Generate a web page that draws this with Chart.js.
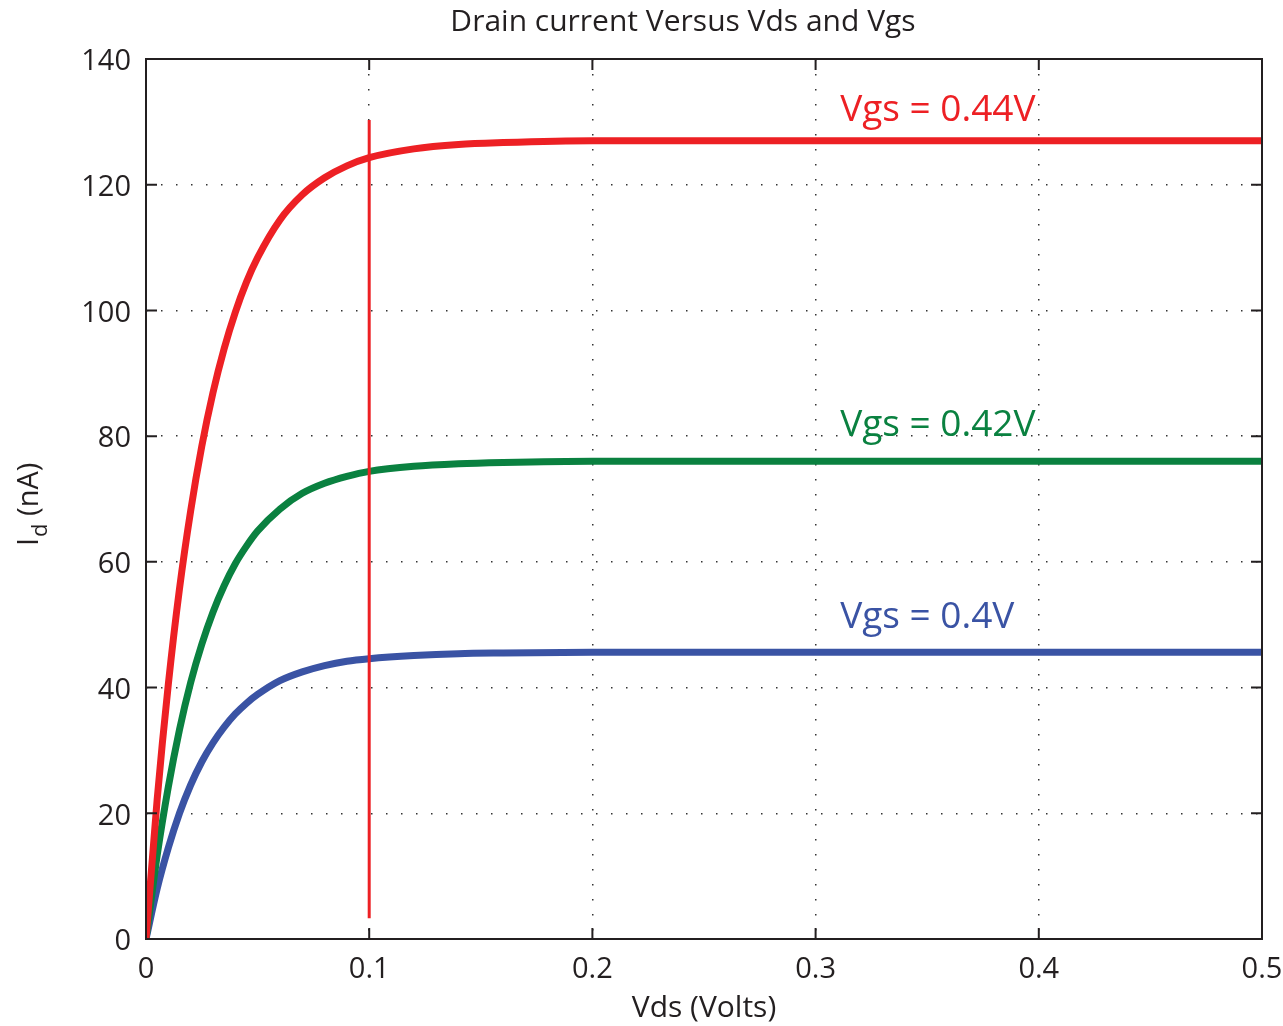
<!DOCTYPE html>
<html>
<head>
<meta charset="utf-8">
<script src="https://cdn.jsdelivr.net/npm/chart.js@4.4.1/dist/chart.umd.min.js"></script>
<style>
  html, body { margin: 0; padding: 0; background: #fff; }
  #wrap { width: 1283px; height: 1026px; }
</style>
</head>
<body>
<div id="wrap"><canvas id="graficoCorriente"></canvas></div>
<script>
// Vds samples (Volts) and drain current (nA)
var vds = [0, 0.005, 0.01, 0.015, 0.02, 0.025, 0.03, 0.035, 0.04, 0.045, 0.05,
  0.06, 0.07, 0.08, 0.09, 0.1, 0.12, 0.14, 0.16, 0.2, 0.3, 0.4, 0.5];
var idVgs044 = [0, 22.2, 40.5, 55.7, 68.1, 78.4, 86.9, 93.9, 99.7, 104.5, 108.4,
  114.4, 118.4, 121.1, 123.0, 124.3, 125.7, 126.4, 126.7, 127, 127, 127, 127];
var idVgs042 = [0, 13.3, 24.2, 33.3, 40.8, 46.9, 52.0, 56.2, 59.7, 62.5, 64.9,
  68.4, 70.9, 72.5, 73.6, 74.4, 75.2, 75.6, 75.8, 76, 76, 76, 76];
var idVgs040 = [0, 8.0, 14.5, 20.0, 24.5, 28.2, 31.2, 33.7, 35.8, 37.5, 38.9,
  41.1, 42.5, 43.5, 44.2, 44.6, 45.1, 45.4, 45.5, 45.6, 45.6, 45.6, 45.6];
var serieNombres = ['Vgs = 0.44V', 'Vgs = 0.42V', 'Vgs = 0.4V'];

// vertical marker at Vds = 0.1
var marcadorVds = [0.1, 0.1];
var marcadorId = [3.3, 130.3];

var xTicks = [0, 0.1, 0.2, 0.3, 0.4, 0.5];
var yTicks = [0, 20, 40, 60, 80, 100, 120, 140];

var colores = ['#ED2024', '#0A8140', '#3A53A4'];
var fuente = "'Open Sans', 'DejaVu Sans', sans-serif";
var tinta = '#231F20';

// text labels placed next to each curve (data coordinates)
var etiquetas = [
  { texto: serieNombres[0], x: 0.311, y: 130.2, color: colores[0] },
  { texto: serieNombres[1], x: 0.311, y: 80.1, color: colores[1] },
  { texto: serieNombres[2], x: 0.311, y: 49.5, color: colores[2] }
];

function puntos(ys) {
  return vds.map(function (v, i) { return { x: v, y: ys[i] }; });
}

var curvas = [idVgs044, idVgs042, idVgs040].map(function (ys, i) {
  return {
    label: serieNombres[i],
    data: puntos(ys),
    borderColor: colores[i],
    backgroundColor: colores[i],
    borderWidth: 7,
    pointRadius: 0,
    cubicInterpolationMode: 'monotone',
    order: i + 1
  };
});

curvas.push({
  label: 'marker',
  data: marcadorVds.map(function (v, i) { return { x: v, y: marcadorId[i] }; }),
  borderColor: colores[0],
  borderWidth: 3,
  pointRadius: 0,
  order: 0
});

var adornos = {
  id: 'adornos',
  afterDatasetsDraw: function (chart) {
    var ctx = chart.ctx;
    var a = chart.chartArea;
    var sx = chart.scales.x;
    var sy = chart.scales.y;
    ctx.save();

    // box and inward ticks
    ctx.strokeStyle = tinta;
    ctx.lineWidth = 2;
    ctx.strokeRect(a.left, a.top, a.right - a.left, a.bottom - a.top);
    ctx.beginPath();
    xTicks.forEach(function (v) {
      var px = sx.getPixelForValue(v);
      ctx.moveTo(px, a.bottom); ctx.lineTo(px, a.bottom - 11);
      ctx.moveTo(px, a.top); ctx.lineTo(px, a.top + 11);
    });
    yTicks.forEach(function (v) {
      var py = sy.getPixelForValue(v);
      ctx.moveTo(a.left, py); ctx.lineTo(a.left + 11, py);
      ctx.moveTo(a.right, py); ctx.lineTo(a.right - 11, py);
    });
    ctx.stroke();

    // curve labels
    ctx.font = '37px ' + fuente;
    ctx.textAlign = 'left';
    ctx.textBaseline = 'alphabetic';
    etiquetas.forEach(function (e) {
      ctx.fillStyle = e.color;
      ctx.fillText(e.texto, sx.getPixelForValue(e.x), sy.getPixelForValue(e.y));
    });

    // title
    ctx.fillStyle = tinta;
    ctx.font = '30px ' + fuente;
    ctx.textAlign = 'center';
    ctx.textBaseline = 'middle';
    ctx.fillText('Drain current Versus Vds and Vgs', 683, 22);

    // y axis title with subscript
    ctx.translate(38, 546);
    ctx.rotate(-Math.PI / 2);
    ctx.textAlign = 'left';
    ctx.textBaseline = 'alphabetic';
    ctx.font = '29px ' + fuente;
    ctx.fillText('I', 0, 0);
    var w = ctx.measureText('I').width;
    ctx.font = '22px ' + fuente;
    ctx.fillText('d', w + 1, 9);
    w += ctx.measureText('d').width + 1;
    ctx.font = '29px ' + fuente;
    ctx.fillText(' (nA)', w, 0);
    ctx.restore();
  }
};

new Chart(document.getElementById('graficoCorriente'), {
  type: 'line',
  data: { datasets: curvas },
  options: {
    responsive: true,
    maintainAspectRatio: false,
    animation: false,
    layout: { padding: { left: 0, right: 21, top: 59, bottom: 0 } },
    plugins: {
      legend: { display: false },
      title: { display: false },
      tooltip: { enabled: false }
    },
    scales: {
      x: {
        type: 'linear',
        min: 0,
        max: 0.5,
        afterFit: function (s) {
          s.height = 87;
          s.paddingLeft = 0;
          s.paddingRight = 0;
        },
        afterBuildTicks: function (s) {
          s.ticks = xTicks.map(function (v) { return { value: v }; });
        },
        ticks: {
          color: tinta,
          font: { family: fuente, size: 29 },
          padding: 13,
          maxRotation: 0,
          callback: function (v) { return String(v); }
        },
        grid: { color: '#333', lineWidth: 1.5, drawTicks: false },
        border: { display: false, dash: [1.5, 13.5] },
        title: {
          display: true,
          text: 'Vds (Volts)',
          color: tinta,
          font: { family: fuente, size: 30 },
          padding: { top: 0, bottom: 0 }
        }
      },
      y: {
        type: 'linear',
        min: 0,
        max: 140,
        afterFit: function (s) {
          s.width = 146;
          s.paddingTop = 0;
          s.paddingBottom = 0;
        },
        afterBuildTicks: function (s) {
          s.ticks = yTicks.map(function (v) { return { value: v }; });
        },
        ticks: {
          color: tinta,
          font: { family: fuente, size: 29 },
          padding: 15,
          labelOffset: 3
        },
        grid: { color: '#333', lineWidth: 1.5, drawTicks: false },
        border: { display: false, dash: [1.5, 13.5] }
      }
    }
  },
  plugins: [adornos]
});
</script>
</body>
</html>
